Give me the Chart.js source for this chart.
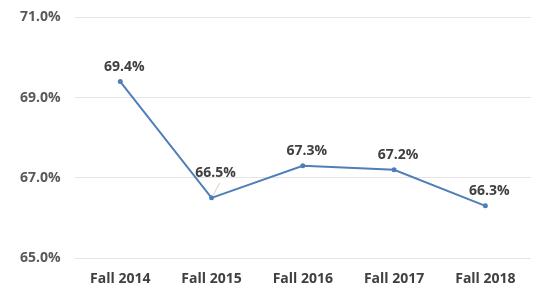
<!DOCTYPE html>
<html>
<head>
<meta charset="utf-8">
<script src="https://cdn.jsdelivr.net/npm/chart.js@4.4.1/dist/chart.umd.min.js"></script>
<style>
  html, body { margin: 0; padding: 0; background: #fff; overflow: hidden; }
  #wrap { width: 537px; height: 294px; position: relative; margin-top: -5px; }
</style>
</head>
<body>
<div id="wrap"><canvas id="rateChart"></canvas></div>
<script>
const terms = ['Fall 2014', 'Fall 2015', 'Fall 2016', 'Fall 2017', 'Fall 2018'];
const rates = [69.4, 66.5, 67.3, 67.2, 66.3];
const yTicks = [65, 67, 69, 71];

// value labels above each point (the 2015 one is pulled up with a leader line)
const pointLabels = {
  id: 'pointLabels',
  afterDatasetsDraw(chart) {
    const ctx = chart.ctx;
    const meta = chart.getDatasetMeta(0);
    ctx.save();
    ctx.font = 'bold 14px "Open Sans"';
    ctx.fillStyle = '#404040';
    ctx.textAlign = 'center';
    ctx.textBaseline = 'bottom';
    meta.data.forEach((pt, i) => {
      let x = pt.x + 4, y = pt.y - 8;
      if (i === 1) {
        y = pt.y - 18;
        ctx.strokeStyle = '#e8c9b0';
        ctx.lineWidth = 1;
        ctx.beginPath();
        ctx.moveTo(pt.x + 2, pt.y - 3);
        ctx.lineTo(pt.x + 8, pt.y - 15);
        ctx.stroke();
      }
      ctx.fillText(rates[i].toFixed(1) + '%', x, y);
    });
    ctx.restore();
  }
};

new Chart(document.getElementById('rateChart'), {
  type: 'line',
  data: {
    labels: terms,
    datasets: [{
      data: rates,
      borderColor: '#4f7fb8',
      backgroundColor: '#4f7fb8',
      borderWidth: 2,
      pointRadius: 1.5,
      tension: 0
    }]
  },
  options: {
    responsive: true, maintainAspectRatio: false, animation: false,
    layout: { padding: { top: 0, right: 0, left: 6, bottom: 0 } },
    plugins: { legend: { display: false }, tooltip: { enabled: false } },
    scales: {
      y: {
        min: 65, max: 71,
        afterBuildTicks: axis => { axis.ticks = yTicks.map(v => ({ value: v })); },
        grid: { color: '#e4e4e4', drawTicks: false },
        border: { display: false },
        ticks: { padding: 14, color: '#595959', font: { family: 'Open Sans', weight: 'bold', size: 14 },
          callback: v => v.toFixed(1) + '%' }
      },
      x: {
        offset: true,
        grid: { display: false, offset: true },
        border: { display: false },
        afterFit: axis => { axis.height = 31; },
        ticks: { padding: 5, color: '#404040', font: { family: 'Open Sans', weight: 'bold', size: 14 }, maxRotation: 0 }
      }
    }
  },
  plugins: [pointLabels]
});
</script>
</body>
</html>
